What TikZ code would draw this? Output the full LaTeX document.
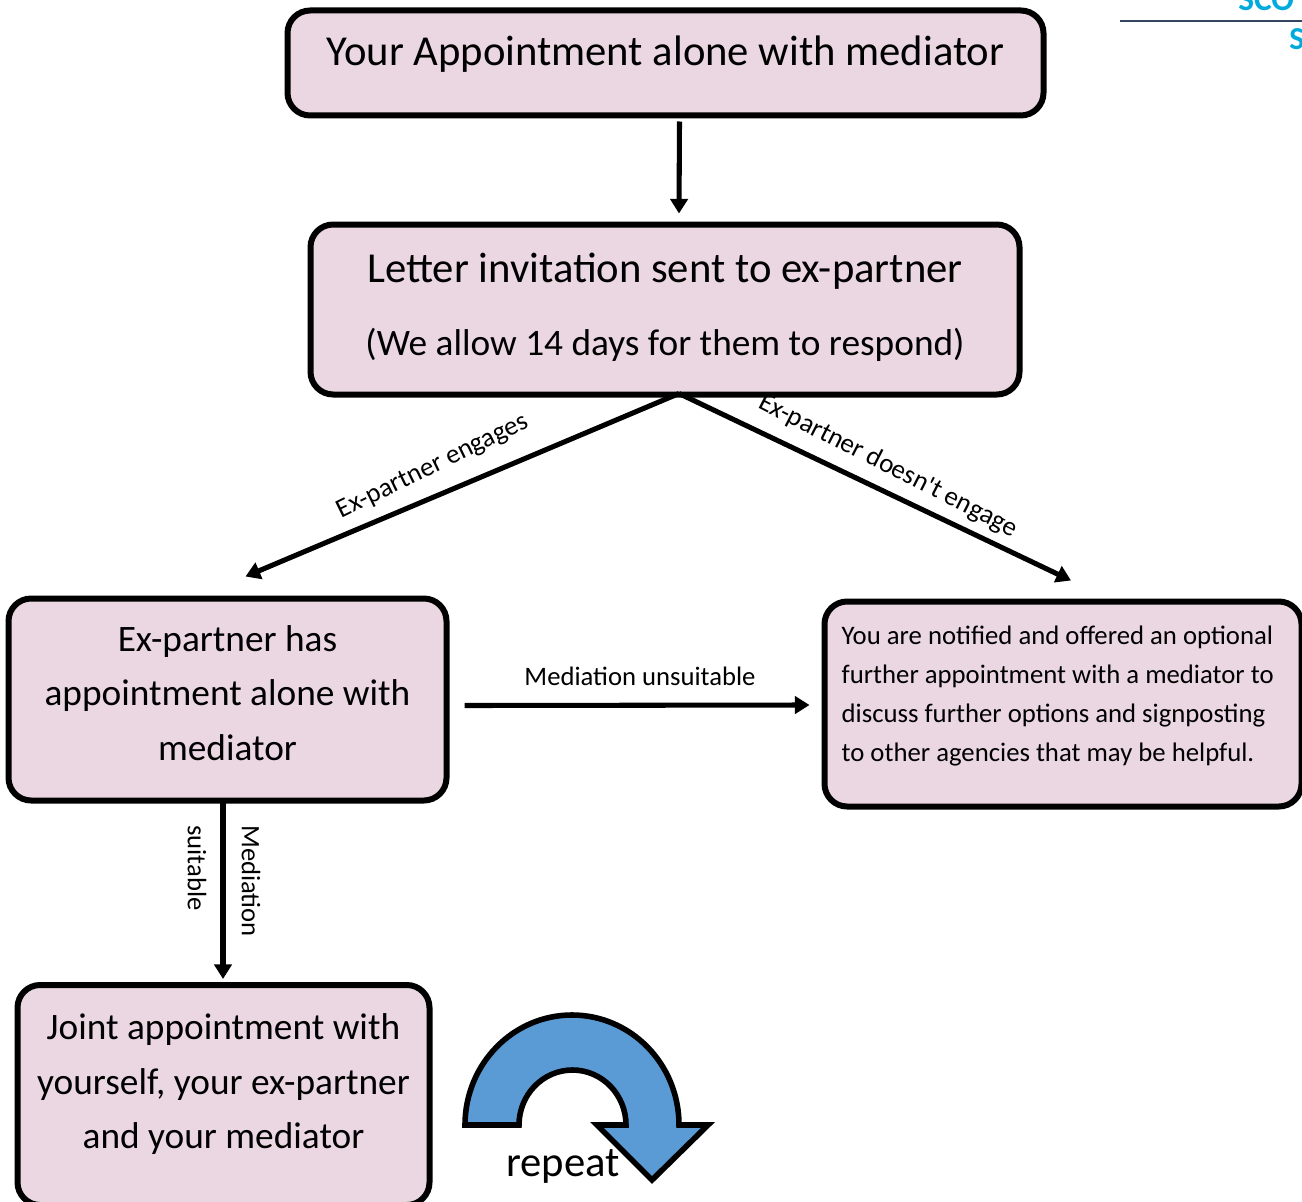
\documentclass[tikz,border=0pt]{standalone}
\usepackage{fontspec}
\setmainfont{Carlito}
\newfontfamily\straightfont{Carlito}
\usetikzlibrary{arrows.meta,calc}
\definecolor{boxfill}{RGB}{235,215,226}
\definecolor{loopblue}{RGB}{91,155,213}
\definecolor{logoblue}{RGB}{0,170,220}
\definecolor{logoline}{RGB}{50,70,95}
\newcommand{\pxfont}[2]{\fontsize{#1pt}{#2pt}\selectfont}
\newcommand{\liftc}[3]{\raisebox{#1}[0pt][0pt]{\parbox[c]{#2}{\centering #3}}}
\newcommand{\liftl}[3]{\raisebox{#1}[0pt][0pt]{\parbox[c]{#2}{\raggedright #3}}}
\tikzset{
 flowbox/.style={draw=black,fill=boxfill,line width=4.5pt,rounded corners=17pt,inner sep=0pt,outer sep=0pt},
 flowarrow/.style={draw=black,line width=3.8pt,-{Triangle[length=11pt,width=13pt]}},
 edgelabel/.style={inner sep=0pt,font=\pxfont{20}{24}},
 slantlabel/.style={inner sep=0pt,font=\pxfont{20.2}{24}},
}
\begin{document}
\begin{tikzpicture}[x=0.75pt,y=-0.75pt]
\useasboundingbox (0,0) rectangle (1302,1202);
\clip (0,0) rectangle (1302,1202);
% logo fragment
\node[anchor=base west,inner sep=0pt,text=logoblue,font=\bfseries\pxfont{25}{25}] (logoa) at (1238,11) {SCO};
\node[anchor=base west,inner sep=0pt,text=logoblue,font=\bfseries\pxfont{24}{24}] (logob) at (1289,50) {S};
\coordinate (rulea) at (1120,21);
\coordinate (ruleb) at (1302,21);
\draw[logoline,line width=1pt] (rulea) -- (ruleb);
% boxes
\node[flowbox,minimum width=567pt,minimum height=78.75pt] (appt) at (665.5,63) {\liftc{4.25pt}{560pt}{\pxfont{32}{40}Your Appointment alone with mediator}};
\node[flowbox,minimum width=531.75pt,minimum height=127.5pt] (letter) at (665,309.5) {\liftc{-1pt}{525pt}{\pxfont{32}{55}Letter invitation sent to ex-partner\\\pxfont{28}{55}(We allow 14 days for them to respond)}};
\node[flowbox,minimum width=328.5pt,minimum height=151.5pt] (expartner) at (227.5,699.5) {\liftc{2.25pt}{320pt}{\pxfont{28}{41}Ex-partner has\\appointment alone with\\mediator}};
\node[flowbox,minimum width=357.75pt,minimum height=153.75pt] (notified) at (1063,704) {\liftl{3.5pt}{332pt}{\pxfont{20.05}{29.3}You are notified and offered an optional\\further appointment with a mediator to\\discuss further options and signposting\\to other agencies that may be helpful.}};
\node[flowbox,minimum width=309pt,minimum height=165pt] (joint) at (223.5,1095) {\liftc{5.5pt}{300pt}{\pxfont{28}{41}Joint appointment with\\yourself, your ex-partner\\and your mediator}};
% connectors
\draw[flowarrow] ($(appt.south)+(14,6)$) -- ($(letter.north)+(14,-11)$);
\draw[flowarrow] ($(letter.south)+(14,-1)$) -- ($(expartner.north)+(18,-22)$);
\draw[flowarrow] ($(letter.south)+(14,-1)$) -- ($(notified.north)+(8,-21)$);
\draw[flowarrow] ($(expartner.east)+(18,6)$) -- ($(notified.west)+(-15,1)$);
\draw[flowarrow] ($(expartner.south)+(-4.5,0)$) -- ($(joint.north)+(-0.5,-6)$);
% labels
\node[slantlabel,rotate=26] (lbla) at (433,467) {Ex-partner engages};
\node[slantlabel,rotate=-27] (lblb) at (888,466) {\straightfont Ex-partner doesn't engage};
\node[edgelabel] (lblc) at (640,676) {Mediation unsuitable};
\node[edgelabel,rotate=-90,anchor=west] (lbld) at (251,825) {Mediation};
\node[edgelabel,rotate=-90,anchor=west] (lble) at (197,825) {suitable};
% loop arrow
\draw[fill=loopblue,draw=black,line width=4.2pt,miter limit=10] (465,1125) arc[start angle=180,end angle=360,x radius=107,y radius=110] -- (708,1125) -- (652,1180) -- (597,1125) -- (626,1125) arc[start angle=360,end angle=180,x radius=53.5,y radius=55] -- cycle;
\node[inner sep=0pt,font=\pxfont{32}{36}] (rep) at (563,1166) {repeat};
\end{tikzpicture}
\end{document}
